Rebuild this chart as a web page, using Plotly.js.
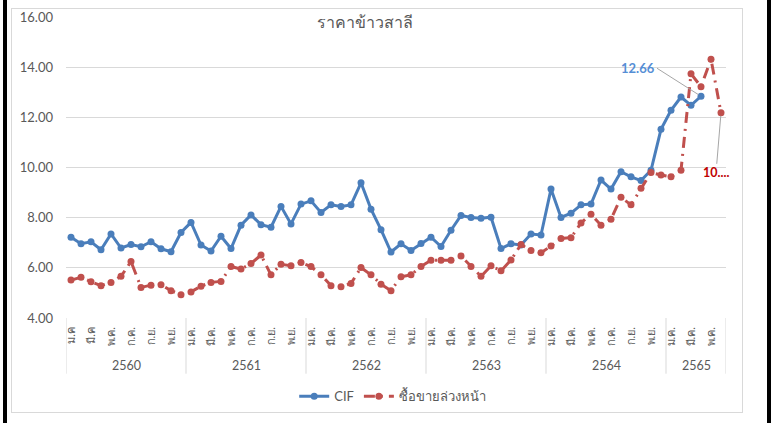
<!DOCTYPE html>
<html>
<head>
<meta charset="utf-8">
<script src="https://cdn.plot.ly/plotly-3.0.1.min.js"></script>
<style>
  html, body { margin: 0; padding: 0; background: #fff; }
  #wrap { position: relative; width: 771px; height: 423px; overflow: hidden; }
  .bar { position: absolute; top: 0; height: 423px; background: #000; }
  #frame { position: absolute; left: 11px; top: 8px; width: 730px; height: 403px; border: 1px solid #d9d9d9; }
  #chart { position: absolute; left: 0; top: 0; width: 771px; height: 423px; }
</style>
</head>
<body>
<div id="wrap">
  <div class="bar" style="left:3px;width:4px;"></div>
  <div class="bar" style="left:767px;width:4px;"></div>
  <div id="frame"></div>
  <div id="chart"></div>
</div>
<script>
// years on the lower axis row and how many months each one has
const years = ['2560', '2561', '2562', '2563', '2564', '2565'];
const monthsInYear = [12, 12, 12, 12, 12, 6];
// month labels, only every second month is shown
const monthLabels = ['ม.ค.', '', 'มี.ค.', '', 'พ.ค.', '', 'ก.ค.', '', 'ก.ย.', '', 'พ.ย.', ''];
const firstYearLabels = ['ม.ค', '', 'มี.ค', '', 'พ.ค.', '', 'ก.ค.', '', 'ก.ย.', '', 'พ.ย.', ''];

const cifName = 'CIF';
const futName = 'ซื้อขายล่วงหน้า';

const cif = [
  7.22, 6.96, 7.04, 6.72, 7.35, 6.79, 6.93, 6.84, 7.04, 6.76, 6.64, 7.41,
  7.81, 6.91, 6.67, 7.26, 6.77, 7.70, 8.11, 7.72, 7.62, 8.45, 7.75, 8.54,
  8.67, 8.21, 8.51, 8.45, 8.51, 9.39, 8.34, 7.52, 6.63, 6.96, 6.69, 6.97,
  7.22, 6.85, 7.50, 8.09, 8.01, 7.98, 8.02, 6.77, 6.96, 6.91, 7.35, 7.31,
  9.14, 8.01, 8.18, 8.51, 8.54, 9.50, 9.14, 9.83, 9.63, 9.48, 9.89, 11.52,
  12.28, 12.81, 12.48, 12.84
];
const futures = [
  5.51, 5.62, 5.45, 5.29, 5.42, 5.66, 6.25, 5.22, 5.31, 5.33, 5.09, 4.93,
  5.04, 5.27, 5.42, 5.46, 6.05, 5.95, 6.17, 6.51, 5.72, 6.14, 6.08, 6.21,
  6.05, 5.72, 5.29, 5.25, 5.38, 6.01, 5.72, 5.35, 5.09, 5.64, 5.72, 6.05,
  6.30, 6.30, 6.30, 6.47, 6.05, 5.66, 6.08, 5.88, 6.31, 6.93, 6.69, 6.60,
  6.87, 7.17, 7.20, 7.79, 8.14, 7.70, 7.94, 8.81, 8.51, 9.17, 9.80, 9.70,
  9.63, 9.89, 13.74, 13.22, 14.32, 12.18
];
const cifLabel = '12.66';
const futLabel = '10....';

const font = 'Lato, "Liberation Sans", "DejaVu Sans", sans-serif';
const grey = '#595959';
const lineGrey = '#d9d9d9';

// category positions and tick text
const tickvals = [], ticktext = [];
let idx = 0;
const shapes = [], annotations = [];
years.forEach((yr, i) => {
  const start = idx;
  const labels = i === 0 ? firstYearLabels : monthLabels;
  for (let m = 0; m < monthsInYear[i]; m++) {
    if (labels[m]) { tickvals.push(idx); ticktext.push(labels[m]); }
    idx++;
  }
  shapes.push({ type: 'line', xref: 'x', yref: 'paper', x0: start - 0.5, x1: start - 0.5,
    y0: 0, y1: -0.185, line: { color: lineGrey, width: 1 } });
  annotations.push({ xref: 'x', yref: 'paper', x: (start + idx - 1) / 2, y: -0.158,
    text: yr, showarrow: false, yanchor: 'middle', font: { family: font, size: 12.5, color: grey } });
});
shapes.push({ type: 'line', xref: 'x', yref: 'paper', x0: idx - 0.5, x1: idx - 0.5,
  y0: 0, y1: -0.185, line: { color: lineGrey, width: 1 } });

const xsCif = cif.map((_, i) => i);
const xsFut = futures.map((_, i) => i);

annotations.push({
  x: cif.length - 1, y: cif[cif.length - 1], xref: 'x', yref: 'y',
  text: '<b>' + cifLabel + '</b>', showarrow: true, arrowhead: 0, arrowwidth: 1,
  arrowcolor: '#a6a6a6', ax: -44, ay: -28, xanchor: 'right', standoff: 3,
  font: { family: font, size: 13, color: '#558ed5' }
});
annotations.push({
  x: futures.length - 1, y: futures[futures.length - 1], xref: 'x', yref: 'y',
  text: '<b>' + futLabel + '</b>', showarrow: true, arrowhead: 0, arrowwidth: 1,
  arrowcolor: '#a6a6a6', ax: -5, ay: 60, standoff: 3,
  font: { family: font, size: 12.5, color: '#c00000' }
});

const traces = [
  {
    x: xsCif, y: cif, name: cifName, type: 'scatter', mode: 'lines+markers',
    line: { color: '#4a7ebb', width: 3 }, marker: { color: '#4a7ebb', size: 7 }
  },
  {
    x: xsFut, y: futures, name: futName, type: 'scatter', mode: 'lines+markers',
    line: { color: '#c0504d', width: 3, dash: '11px,6px,2px,6px' },
    marker: { color: '#c0504d', size: 7 }
  }
];

const layout = {
  width: 771, height: 423,
  margin: { l: 66, r: 45, t: 17, b: 102 },
  paper_bgcolor: 'rgba(0,0,0,0)', plot_bgcolor: 'rgba(0,0,0,0)',
  font: { family: font, color: grey, size: 12 },
  title: {
    text: 'ราคาข้าวสาลี', x: 0.473, xanchor: 'center', y: 0.948, yanchor: 'middle',
    font: { family: font, size: 16, color: grey }
  },
  xaxis: {
    range: [-0.5, idx - 0.5], tickmode: 'array', tickvals: tickvals, ticktext: ticktext,
    tickangle: -90, showgrid: false, zeroline: false, showline: false, ticks: '',
    tickfont: { family: font, size: 11, color: grey }, ticklabelstandoff: 6
  },
  yaxis: {
    range: [4, 16], dtick: 2, tickformat: '.2f', gridcolor: lineGrey, gridwidth: 1,
    zeroline: false, showline: false, ticks: '', ticklabelstandoff: 12,
    tickfont: { family: font, size: 13, color: grey }
  },
  showlegend: true,
  legend: {
    orientation: 'h', x: 0.495, xanchor: 'center', y: -0.26, yanchor: 'middle',
    font: { family: font, size: 13, color: grey }, bgcolor: 'rgba(0,0,0,0)'
  },
  shapes: shapes,
  annotations: annotations
};

Plotly.newPlot('chart', traces, layout, { displayModeBar: false, staticPlot: true });
</script>
</body>
</html>
